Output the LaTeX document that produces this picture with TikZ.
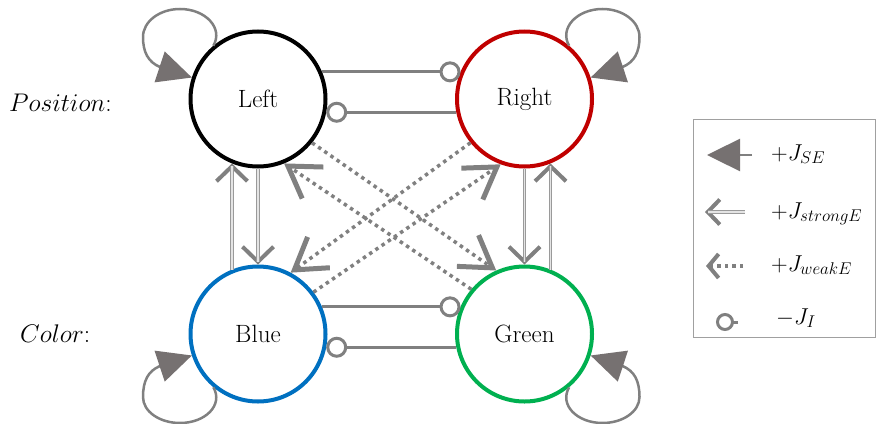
\RequirePackage{fix-cm}
\documentclass[tikz,border=0pt]{standalone}
\usetikzlibrary{arrows.meta}
\DeclareMathSizes{23}{23}{17}{13}
\definecolor{redC}{HTML}{C00000}
\definecolor{blueC}{HTML}{0070C0}
\definecolor{greenC}{HTML}{00B050}
\definecolor{lineG}{HTML}{808080}
\definecolor{tipG}{HTML}{767171}
\definecolor{dblG}{HTML}{9A9A9A}
\definecolor{dblIn}{HTML}{E4E4E4}
\definecolor{boxG}{HTML}{A0A0A0}
\begin{document}
\begin{tikzpicture}[x=1pt,y=-1pt,
  unit/.style={circle, minimum size=135pt, line width=4pt, inner sep=0pt,
    fill=white, font=\fontsize{25}{30}\selectfont},
  selfloop/.style={draw=lineG, line width=2.5pt,
    -{Triangle[length=34pt,width=32pt,color=tipG]}},
  inhib/.style={draw=lineG, line width=3pt,
    -{Circle[length=21pt,width=21pt,line width=3pt,fill=white]}},
  strongtip/.style={draw=lineG, line width=1pt,
    -{Straight Barb[length=15pt,width=31pt,line width=4pt,sharp]}},
  strongline/.style={draw=dblG, line width=0.8pt, double=dblIn,
    double distance=1.6pt, shorten >=3pt},
  weak/.style={draw=lineG, line width=3.5pt, dash pattern=on 3.5pt off 4pt,
    -{Straight Barb[length=30pt,width=38pt,line width=5pt,sharp]}},
  lbl/.style={font=\fontsize{25.5}{30}\selectfont, inner sep=0pt, anchor=base west},
  key/.style={font=\fontsize{23}{27}\selectfont, inner sep=0pt, anchor=base west}]
\useasboundingbox (0,0) rectangle (877,423);

% row labels
\node[lbl] (pos) at (9,111) {$Position$:};
\node[lbl] (col) at (20,342) {$Color$:};

% the four units
\node[unit, draw=black] (L) at (258,99) {Left};
\node[unit, draw=redC] (R) at (524.5,99) {Right};
\node[unit, draw=blueC] (B) at (258,334) {Blue};
\node[unit, draw=greenC] (G) at (524.5,334) {Green};

% self-excitation loops
\draw[selfloop] (L.130) .. controls (223.6,28.3) and (205.7,9) .. (180,9)
  .. controls (159.6,9) and (143,21.5) .. (143,37)
  .. controls (143,52) and (148,62) .. (160,67) -- (L.162);
\draw[selfloop] (R.50) .. controls (558.9,28.3) and (576.8,9) .. (602.5,9)
  .. controls (622.9,9) and (639.5,21.5) .. (639.5,37)
  .. controls (639.5,52) and (634.5,62) .. (622.5,67) -- (R.18);
\draw[selfloop] (B.230) .. controls (223.6,404.7) and (205.7,423) .. (180,423)
  .. controls (159.6,423) and (143,411.5) .. (143,397)
  .. controls (143,381) and (148,371) .. (160,366) -- (B.198);
\draw[selfloop] (G.310) .. controls (558.9,404.7) and (576.8,423) .. (602.5,423)
  .. controls (622.9,423) and (639.5,411.5) .. (639.5,397)
  .. controls (639.5,381) and (634.5,371) .. (622.5,366) -- (G.342);

% mutual inhibition
\draw[inhib] (L.23) -- (R.157);
\draw[inhib] (R.191) -- (L.349);
\draw[inhib] (B.23) -- (G.157);
\draw[inhib] (G.191) -- (B.349);

% strong excitation between position and colour
\draw[strongtip] (L.south) -- (B.north);
\draw[strongline] (L.south) -- (B.north);
\draw[strongtip] (B.112) -- (L.248);
\draw[strongline] (B.112) -- (L.248);
\draw[strongtip] (R.south) -- (G.north);
\draw[strongline] (R.south) -- (G.north);
\draw[strongtip] (G.68) -- (R.292);
\draw[strongline] (G.68) -- (R.292);

% weak excitation across
\draw[weak] (L.321) -- (G.114);
\draw[weak] (G.140) -- (L.292);
\draw[weak] (R.219) -- (B.62);
\draw[weak] (B.37) -- (R.250);

% key
\node[draw=boxG, line width=1pt, minimum width=182pt, minimum height=218pt,
  inner sep=0pt] (box) at (784,228) {};
\coordinate (k1a) at (752,155); \coordinate (k1b) at (707,155);
\coordinate (k2a) at (745,212); \coordinate (k2b) at (705,212);
\coordinate (k3a) at (743,266); \coordinate (k3b) at (706,266);
\coordinate (k4a) at (738,322); \coordinate (k4b) at (716,322);
\draw[draw=lineG, line width=2.5pt, -{Triangle[length=33pt,width=32pt,color=tipG]}] (k1a) -- (k1b);
\draw[draw=lineG, line width=1pt, -{Straight Barb[length=12pt,width=25pt,line width=4pt,sharp]}] (k2a) -- (k2b);
\draw[strongline] (k2a) -- (k2b);
\draw[draw=lineG, line width=3.5pt, dash pattern=on 3.5pt off 4pt,
  -{Straight Barb[length=10pt,width=24pt,line width=4pt,sharp]}] (k3a) -- (k3b);
\draw[draw=lineG, line width=3pt, -{Circle[length=18pt,width=18pt,line width=3pt,fill=white]}] (k4a) -- (k4b);
\node[key] (t1) at (771,160) {$+J_{SE}$};
\node[key] (t2) at (771,218) {$+J_{strongE}$};
\node[key] (t3) at (771,271) {$+J_{weakE}$};
\node[key] (t4) at (776,324) {$-J_{I}$};
\end{tikzpicture}
\end{document}
